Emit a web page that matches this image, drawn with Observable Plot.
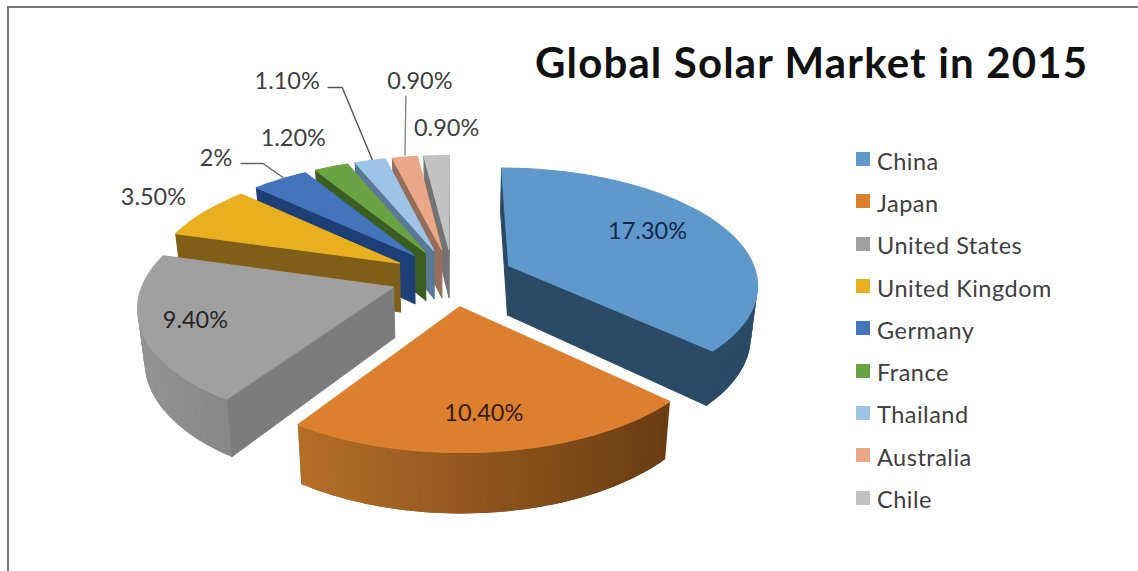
<!DOCTYPE html>
<html>
<head>
<meta charset="utf-8">
<script src="https://cdn.jsdelivr.net/npm/d3@7"></script>
<script src="https://cdn.jsdelivr.net/npm/@observablehq/plot@0.6"></script>
<style>
  html, body { margin: 0; padding: 0; background: #fff; }
  #chart { position: relative; width: 1138px; height: 571px; overflow: hidden; font-family: Lato, "Open Sans", sans-serif; }
  #chart svg { position: absolute; left: 0; top: 0; background: transparent; }
  #frame { position: absolute; left: 7px; top: 6px; right: -4px; bottom: -4px; border-top: 2px solid #777; border-left: 2px solid #777; }
  #title { position: absolute; left: 535px; top: 37px; font-size: 42px; letter-spacing: 1.15px; font-weight: 700; color: #111; white-space: nowrap; line-height: 50px; }
  #legend { position: absolute; left: 856px; top: 139.5px; color: #404040; font-size: 23.5px; letter-spacing: 0.5px; }
  #legend .row { display: flex; align-items: center; height: 42.3px; white-space: nowrap; }
  #legend .swatch { width: 14px; height: 14px; margin-right: 7px; margin-top: -3px; }
</style>
</head>
<body>
<div id="chart">
  <div id="frame"></div>
  <div id="title">Global Solar Market in 2015</div>
  <div id="legend"></div>
</div>
<script>
// Market share per country, in drawing order round the pie
const countries = ["China", "Japan", "United States", "United Kingdom", "Germany", "France", "Thailand", "Australia", "Chile"];
const shares = [17.3, 10.4, 9.4, 3.5, 2, 1.2, 1.1, 0.9, 0.9];
const labels = ["17.30%", "10.40%", "9.40%", "3.50%", "2%", "1.20%", "1.10%", "0.90%", "0.90%"];

// Colours of the top faces, side walls and curved rims (left and right ends)
const topColors = ["#5f99cb", "#dc802f", "#a0a0a0", "#e8b01f", "#4474bb", "#6aa343", "#9dc3e6", "#eba888", "#c2c2c2"];
const wallColors = ["#2b4a66", "#6a3c12", "#7c7c7c", "#7f5f17", "#1e3f75", "#3a5d22", "#5b7897", "#966e5b", "#737373"];
const rimLeft = ["#2b4a66", "#b46e28", "#939393", "#7f5f17", "#1e3f75", "#3a5d22", "#5b7897", "#966e5b", "#737373"];
const rimRight = ["#2b4a66", "#6a3c12", "#888888", "#7f5f17", "#1e3f75", "#3a5d22", "#5b7897", "#966e5b", "#737373"];
const labelColors = ["#14284a", "#3a1a02", "#262626", "#404040", "#404040", "#404040", "#404040", "#404040", "#404040"];

// Label offsets from each slice's rim midpoint, in pixels
const labelDx = [-71, -12, 54, -51, -64, -38, -83, 15, 10];
const labelDy = [7.5, -38, -10, -15, -21, -28, -79, -76, -27];

// Leader lines: slice index, colour and bends relative to the rim midpoint
const leaders = [
  {slice: 4, color: "#666", bends: [[3, -2], [-17, -16], [-39, -16]]},
  {slice: 6, color: "#555", bends: [[2, -1], [-28, -73], [-42, -73]]},
  {slice: 7, color: "#888", bends: [[0, -2], [1, -61]]}
];

// Scene geometry of the tilted pie
const W = 1138, H = 571;
const cx = 452, cy = 276.5;    // pixel position of the pie centre
const rx = 248.5, ry = 115;    // pixels per unit radius across and along the tilted disc
const persp = 0.146;           // foreshortening towards the back
const explode = 0.25;          // radial offset of every slice
const depth = 0.433;           // thickness in units of ry
const narrowing = 0.022;       // the underside converges slightly towards the centre
const startAngle = 0;
const arcStep = 1.5;

const project = (u, v, h) => {
  const s = 1 / (1 - persp * v);
  return {x: u * s * (1 - narrowing * h), y: v * s + depth * h * s};
};
const dir = deg => [Math.sin(deg * Math.PI / 180), -Math.cos(deg * Math.PI / 180)];

// Build each slice's outline in disc coordinates from its share
const total = d3.sum(shares);
let running = startAngle;
const slices = shares.map((share, i) => {
  const a0 = running, a1 = running + share / total * 360;
  running = a1;
  const mid = (a0 + a1) / 2;
  const [ex, ey] = dir(mid).map(d => d * explode);
  const n = Math.max(2, Math.ceil((a1 - a0) / arcStep));
  const rim = d3.range(n + 1).map(k => {
    const [du, dv] = dir(a0 + (a1 - a0) * k / n);
    return [ex + du, ey + dv];
  });
  const [mu, mv] = dir(mid);
  return {i, apex: [ex, ey], rim, anchor: project(ex + mu, ey + mv, 0)};
});

// Turn slices into filled polygons, back to front. A side is only visible
// where the clockwise outline runs leftwards on screen. Each rim band runs on
// under the next one so that no background shows through the joins.
const faces = [];
let faceId = 0;
const addFace = (corners, color, edge) => {
  const id = faceId++;
  corners.forEach(p => faces.push({id, x: p.x, y: p.y, color, edge}));
};
[...slices].reverse().forEach(s => {
  const i = s.i;
  const top = [s.apex, ...s.rim, s.apex];
  const spread = d3.extent(s.rim, p => project(p[0], p[1], 0).x);
  const rimColor = d3.scaleLinear().domain(spread).range([rimLeft[i], rimRight[i]]).interpolate(d3.interpolateRgb);
  const last = top.length - 2;
  const screenX = p => project(p[0], p[1], 0).x;
  for (let k = 0; k <= last; k++) {
    const a = top[k], b = top[k + 1];
    if (screenX(b) >= screenX(a)) continue;
    const radial = k === 0 || k === last;
    const next = !radial && k + 1 < last && screenX(top[k + 2]) < screenX(b) ? top[k + 2] : b;
    const color = radial ? wallColors[i] : rimColor((screenX(a) + screenX(b)) / 2);
    const chain = next === b ? [a, b] : [a, b, next];
    addFace([
      ...chain.map(p => project(p[0], p[1], 0)),
      ...[...chain].reverse().map(p => project(p[0], p[1], 1))
    ], color, radial ? color : "none");
  }
  addFace(top.map(p => project(p[0], p[1], 0)), topColors[i], topColors[i]);
});

// Value labels and their leader lines, placed relative to each slice
const labelRows = slices.map(s => ({
  x: s.anchor.x + labelDx[s.i] / rx,
  y: s.anchor.y + labelDy[s.i] / ry,
  text: labels[s.i],
  color: labelColors[s.i]
}));
const leaderRows = leaders.flatMap((l, li) => l.bends.map(([dx, dy]) => ({
  id: li,
  x: slices[l.slice].anchor.x + dx / rx,
  y: slices[l.slice].anchor.y + dy / ry,
  color: l.color
})));

const plot = Plot.plot({
  width: W,
  height: H,
  margin: 0,
  x: {domain: [-cx / rx, (W - cx) / rx], range: [0, W], axis: null},
  y: {domain: [-cy / ry, (H - cy) / ry], range: [0, H], axis: null},
  color: {type: "identity"},
  style: {background: "transparent"},
  marks: [
    Plot.line(faces, {x: "x", y: "y", z: "id", fill: "color", stroke: "edge", strokeWidth: 1.1, curve: "linear-closed"}),
    Plot.line(leaderRows, {x: "x", y: "y", z: "id", stroke: "color", strokeWidth: 1.4}),
    Plot.text(labelRows, {x: "x", y: "y", text: "text", fill: "color", fontSize: 23.5, fontFamily: "Lato, 'Open Sans', sans-serif"})
  ]
});
document.getElementById("chart").appendChild(plot);

// Legend rows beside the pie
const legend = d3.select("#legend");
countries.forEach((name, i) => {
  const row = legend.append("div").attr("class", "row");
  row.append("div").attr("class", "swatch").style("background", topColors[i]);
  row.append("span").text(name);
});
</script>
</body>
</html>
